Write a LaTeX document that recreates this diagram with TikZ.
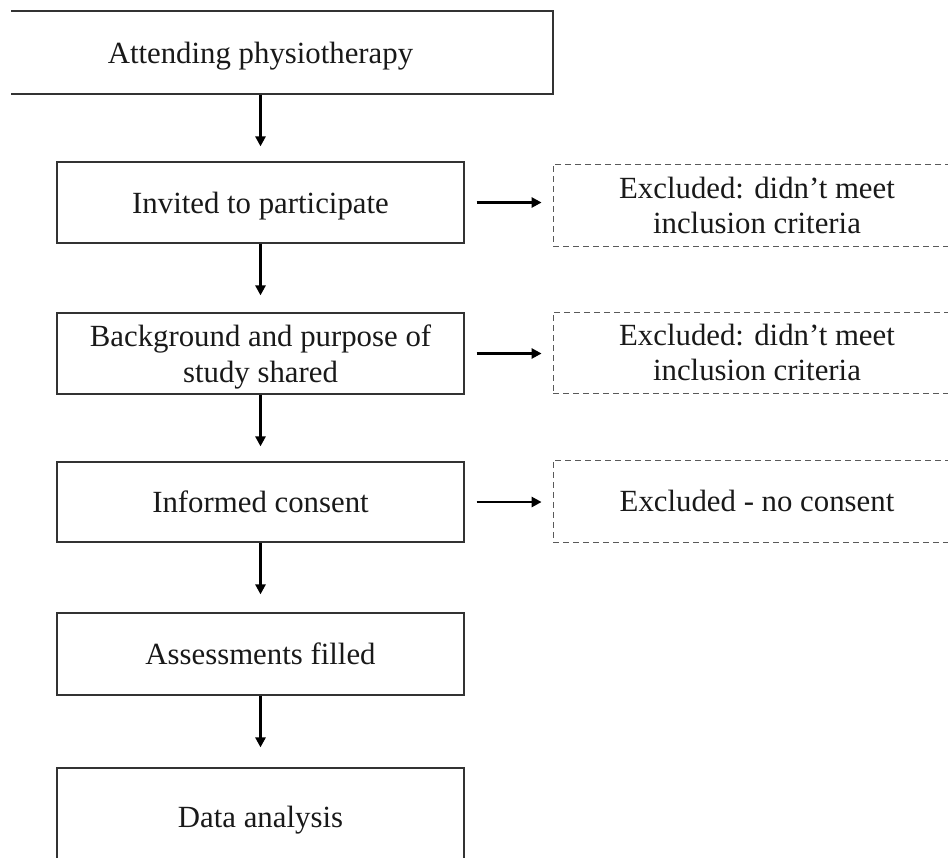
\documentclass[tikz,border=0pt]{standalone}
\usepackage{fontspec}
\setmainfont{Liberation Serif}
\usetikzlibrary{arrows.meta}
\begin{document}
\begin{tikzpicture}[x=0.75pt,y=-0.75pt,
  every node/.style={font=\fontsize{23.1pt}{26.5pt}\selectfont, align=center, inner sep=0pt, text depth=0pt, text=black!90},
  mainbox/.style={draw=black!80, line width=0.9pt, minimum width=305.25pt, minimum height=61pt},
  exbox/.style={draw=black!65, line width=0.6pt, dash pattern=on 4.5pt off 3pt, minimum width=306pt, minimum height=61.5pt},
  flow/.style={draw=black, line width=2pt, -{Triangle[length=7.5pt,width=7.5pt]}},
]
\path[use as bounding box] (0,0) rectangle (948,857);
\clip (0,0) rectangle (948,857);
\begin{scope}
  \clip (11,0) rectangle (948,857);
  \node[mainbox, minimum width=438.75pt, minimum height=62.25pt] (a) at (260.5,52.5) {Attending physiotherapy};
\end{scope}
\node[mainbox, minimum height=60.75pt] (b) at (260.5,202.5) {Invited to participate};
\node[mainbox, minimum height=60.75pt] (c) at (260.5,353.5) {Background and purpose of\\study shared};
\node[mainbox, minimum height=60pt] (d) at (260.5,502) {Informed consent};
\node[mainbox, minimum height=61.5pt] (e) at (260.5,654) {Assessments filled};
\node[mainbox, minimum height=73.5pt] (f) at (260.5,817) {Data analysis};

\node[exbox] (x1) at (757,205) {Excluded: didn’t meet\\inclusion criteria};
\node[exbox, minimum height=60.75pt] (x2) at (757,352.5) {Excluded: didn’t meet\\inclusion criteria};
\node[exbox] (x3) at (757,501) {Excluded - no consent};

\draw[flow, shorten >=11.25pt] (a) -- (b);
\draw[flow, shorten >=12.75pt] (b) -- (c);
\draw[flow, shorten >=11.25pt] (c) -- (d);
\draw[flow, shorten >=13.5pt] (d) -- (e);
\draw[flow, shorten >=15pt] (e) -- (f);

\draw[flow, shorten <=9pt, shorten >=8.25pt] (b.east) -- (b.east -| x1.west);
\draw[flow, shorten <=9pt, shorten >=8.25pt] (c.east) -- (c.east -| x2.west);
\draw[flow, shorten <=9pt, shorten >=8.25pt] (d.east) -- (d.east -| x3.west);
\end{tikzpicture}
\end{document}
